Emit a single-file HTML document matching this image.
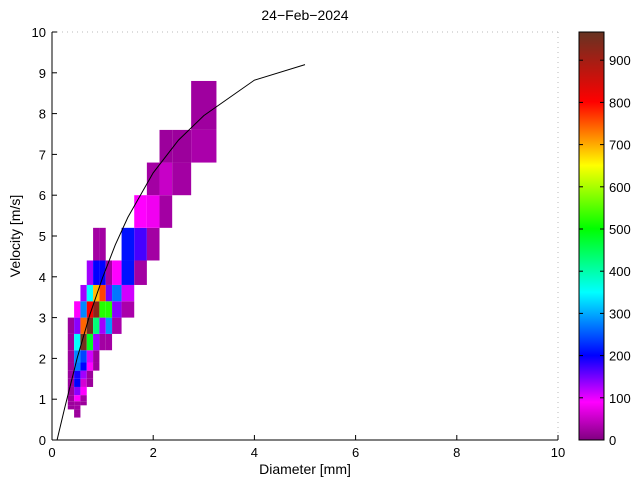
<!DOCTYPE html>
<html><head><meta charset="utf-8"><style>
body{margin:0;background:#fff;}
svg{display:block;font-family:"Liberation Sans",sans-serif;}
</style></head><body>
<svg id="chart" width="640" height="480">
<text x="305" y="20" font-size="14" text-anchor="middle">24−Feb−2024</text>
<g id="cells"></g>
<polyline id="fit" fill="none" stroke="#000" stroke-width="1"/>
<g id="axes"></g>
<text x="305" y="474" font-size="14" text-anchor="middle">Diameter [mm]</text>
<text transform="translate(20,236) rotate(-90)" font-size="14" text-anchor="middle">Velocity [m/s]</text>
<defs><linearGradient id="cm" x1="0" y1="1" x2="0" y2="0">
<stop offset="0" stop-color="#800080"/><stop offset="0.093" stop-color="#ff00ff"/><stop offset="0.207" stop-color="#0000ff"/><stop offset="0.362" stop-color="#00ffff"/><stop offset="0.518" stop-color="#00ff00"/><stop offset="0.673" stop-color="#ffff00"/><stop offset="0.829" stop-color="#ff0000"/><stop offset="1" stop-color="#663322"/>
</linearGradient></defs>
<rect x="579" y="32" width="25" height="408" fill="url(#cm)" stroke="#000" stroke-width="1"/>
<g id="cbticks"></g>
</svg>
<script>
const dCenters=[0.312,0.437,0.562,0.687,0.812,0.937,1.062,1.187,1.375,1.625,1.875,2.125,2.375,2.75,3.25];
const vCenters=[0.55,0.65,0.75,0.85,0.95,1.1,1.3,1.5,1.7,1.9,2.2,2.6,3.0,3.4,3.8,4.4,5.2,6.0,6.8,7.6,8.8];
const cellD=[0.437,0.437,0.312,0.437,0.312,0.437,0.562,0.312,0.437,0.562,0.312,0.437,0.562,
0.312,0.437,0.562,0.687,0.312,0.437,0.562,0.687,0.312,0.437,0.562,0.687,0.812,0.312,0.437,0.562,0.687,0.812,
0.312,0.437,0.562,0.687,0.812,0.937,1.062,0.312,0.437,0.562,0.687,0.812,0.937,1.062,1.187,
0.437,0.562,0.687,0.812,0.937,1.062,1.187,1.375,0.562,0.687,0.812,0.937,1.062,1.187,1.375,
0.687,0.812,0.937,1.062,1.187,1.375,1.625,0.812,0.937,1.375,1.625,1.875,1.625,1.875,2.125,
1.875,2.125,2.375,2.125,2.375,2.75,2.75];
const cellV=[0.55,0.65,0.75,0.75,0.85,0.85,0.85,0.95,0.95,0.95,1.1,1.1,1.1,
1.3,1.3,1.3,1.3,1.5,1.5,1.5,1.5,1.7,1.7,1.7,1.7,1.7,1.9,1.9,1.9,1.9,1.9,
2.2,2.2,2.2,2.2,2.2,2.2,2.2,2.6,2.6,2.6,2.6,2.6,2.6,2.6,2.6,
3.0,3.0,3.0,3.0,3.0,3.0,3.0,3.0,3.4,3.4,3.4,3.4,3.4,3.4,3.4,
3.8,3.8,3.8,3.8,3.8,3.8,3.8,4.4,4.4,4.4,4.4,4.4,5.2,5.2,5.2,
6.0,6.0,6.0,6.8,6.8,6.8,7.6];
const cellVal=[20,20,20,25,20,25,20,20,90,25,20,140,90,
20,200,60,20,20,190,130,20,20,270,200,90,20,20,280,240,110,20,
20,350,950,480,130,25,25,20,140,740,950,430,130,290,30,
90,280,800,920,520,520,140,30,130,350,690,760,150,270,110,
130,200,200,25,90,210,25,25,25,210,170,25,90,80,25,
25,50,25,20,20,30,22];
const fitD=[0.1,0.25,0.5,0.75,1,1.25,1.5,2,2.5,3,4,5];
const fitV=[0,0.78,2.02,3.08,3.98,4.78,5.46,6.55,7.35,7.95,8.82,9.2];
const xTicks=[0,2,4,6,8,10];
const yTicks=[0,1,2,3,4,5,6,7,8,9,10];
const cbTicks=[0,100,200,300,400,500,600,700,800,900];
const NS="http://www.w3.org/2000/svg";
const X=d=>52+d*50.6, Y=v=>440-v*40.8, CY=c=>440-c*0.422;
const stops=[[0,[128,0,128]],[90,[255,0,255]],[200,[0,0,255]],[350,[0,255,255]],[500,[0,255,0]],[650,[255,255,0]],[800,[255,0,0]],[966,[102,51,34]]];
function cmap(v){for(let i=0;i<stops.length-1;i++){const a=stops[i],b=stops[i+1];if(v<=b[0]){const t=Math.max(0,(v-a[0])/(b[0]-a[0]));return 'rgb('+a[1].map((c,k)=>Math.round(c+(b[1][k]-c)*t)).join(',')+')';}}return 'rgb(102,51,34)';}
function mk(tag,attrs,parent){const e=document.createElementNS(NS,tag);for(const k in attrs)e.setAttribute(k,attrs[k]);parent.appendChild(e);return e;}
const cg=document.getElementById('cells');
for(let i=0;i<cellD.length;i++){
const di=dCenters.indexOf(cellD[i]),vi=vCenters.indexOf(cellV[i]);
const x0=X(dCenters[di]),x1=X(dCenters[di+1]),y0=Y(vCenters[vi]),y1=Y(vCenters[vi+1]);
const r=mk('rect',{x:x0,y:y1,width:x1-x0,height:y0-y1,fill:cmap(cellVal[i])},cg);


}
document.getElementById('fit').setAttribute('points',fitD.map((d,i)=>X(d)+','+Y(fitV[i])).join(' '));
const ax=document.getElementById('axes');
mk('line',{x1:52,y1:32,x2:558,y2:32,stroke:'#bbb','stroke-dasharray':'1,4'},ax);
mk('line',{x1:558,y1:32,x2:558,y2:440,stroke:'#bbb','stroke-dasharray':'1,4'},ax);
mk('line',{x1:52,y1:32,x2:52,y2:440,stroke:'#000'},ax);
mk('line',{x1:52,y1:440,x2:558,y2:440,stroke:'#000'},ax);
xTicks.forEach(t=>{mk('line',{x1:X(t),y1:440,x2:X(t),y2:435,stroke:'#000'},ax);
const tx=mk('text',{x:X(t),y:457,'font-size':13,'text-anchor':'middle'},ax);tx.textContent=t;

});
yTicks.forEach(t=>{mk('line',{x1:52,y1:Y(t),x2:57,y2:Y(t),stroke:'#000'},ax);
const tx=mk('text',{x:46,y:Y(t)+5,'font-size':13,'text-anchor':'end'},ax);tx.textContent=t;

});
const cb=document.getElementById('cbticks');
cbTicks.forEach(t=>{mk('line',{x1:579,y1:CY(t),x2:583,y2:CY(t),stroke:'#000'},cb);mk('line',{x1:600,y1:CY(t),x2:604,y2:CY(t),stroke:'#000'},cb);
const tx=mk('text',{x:609,y:CY(t)+5,'font-size':13},cb);tx.textContent=t;

});
</script>
</body></html>
